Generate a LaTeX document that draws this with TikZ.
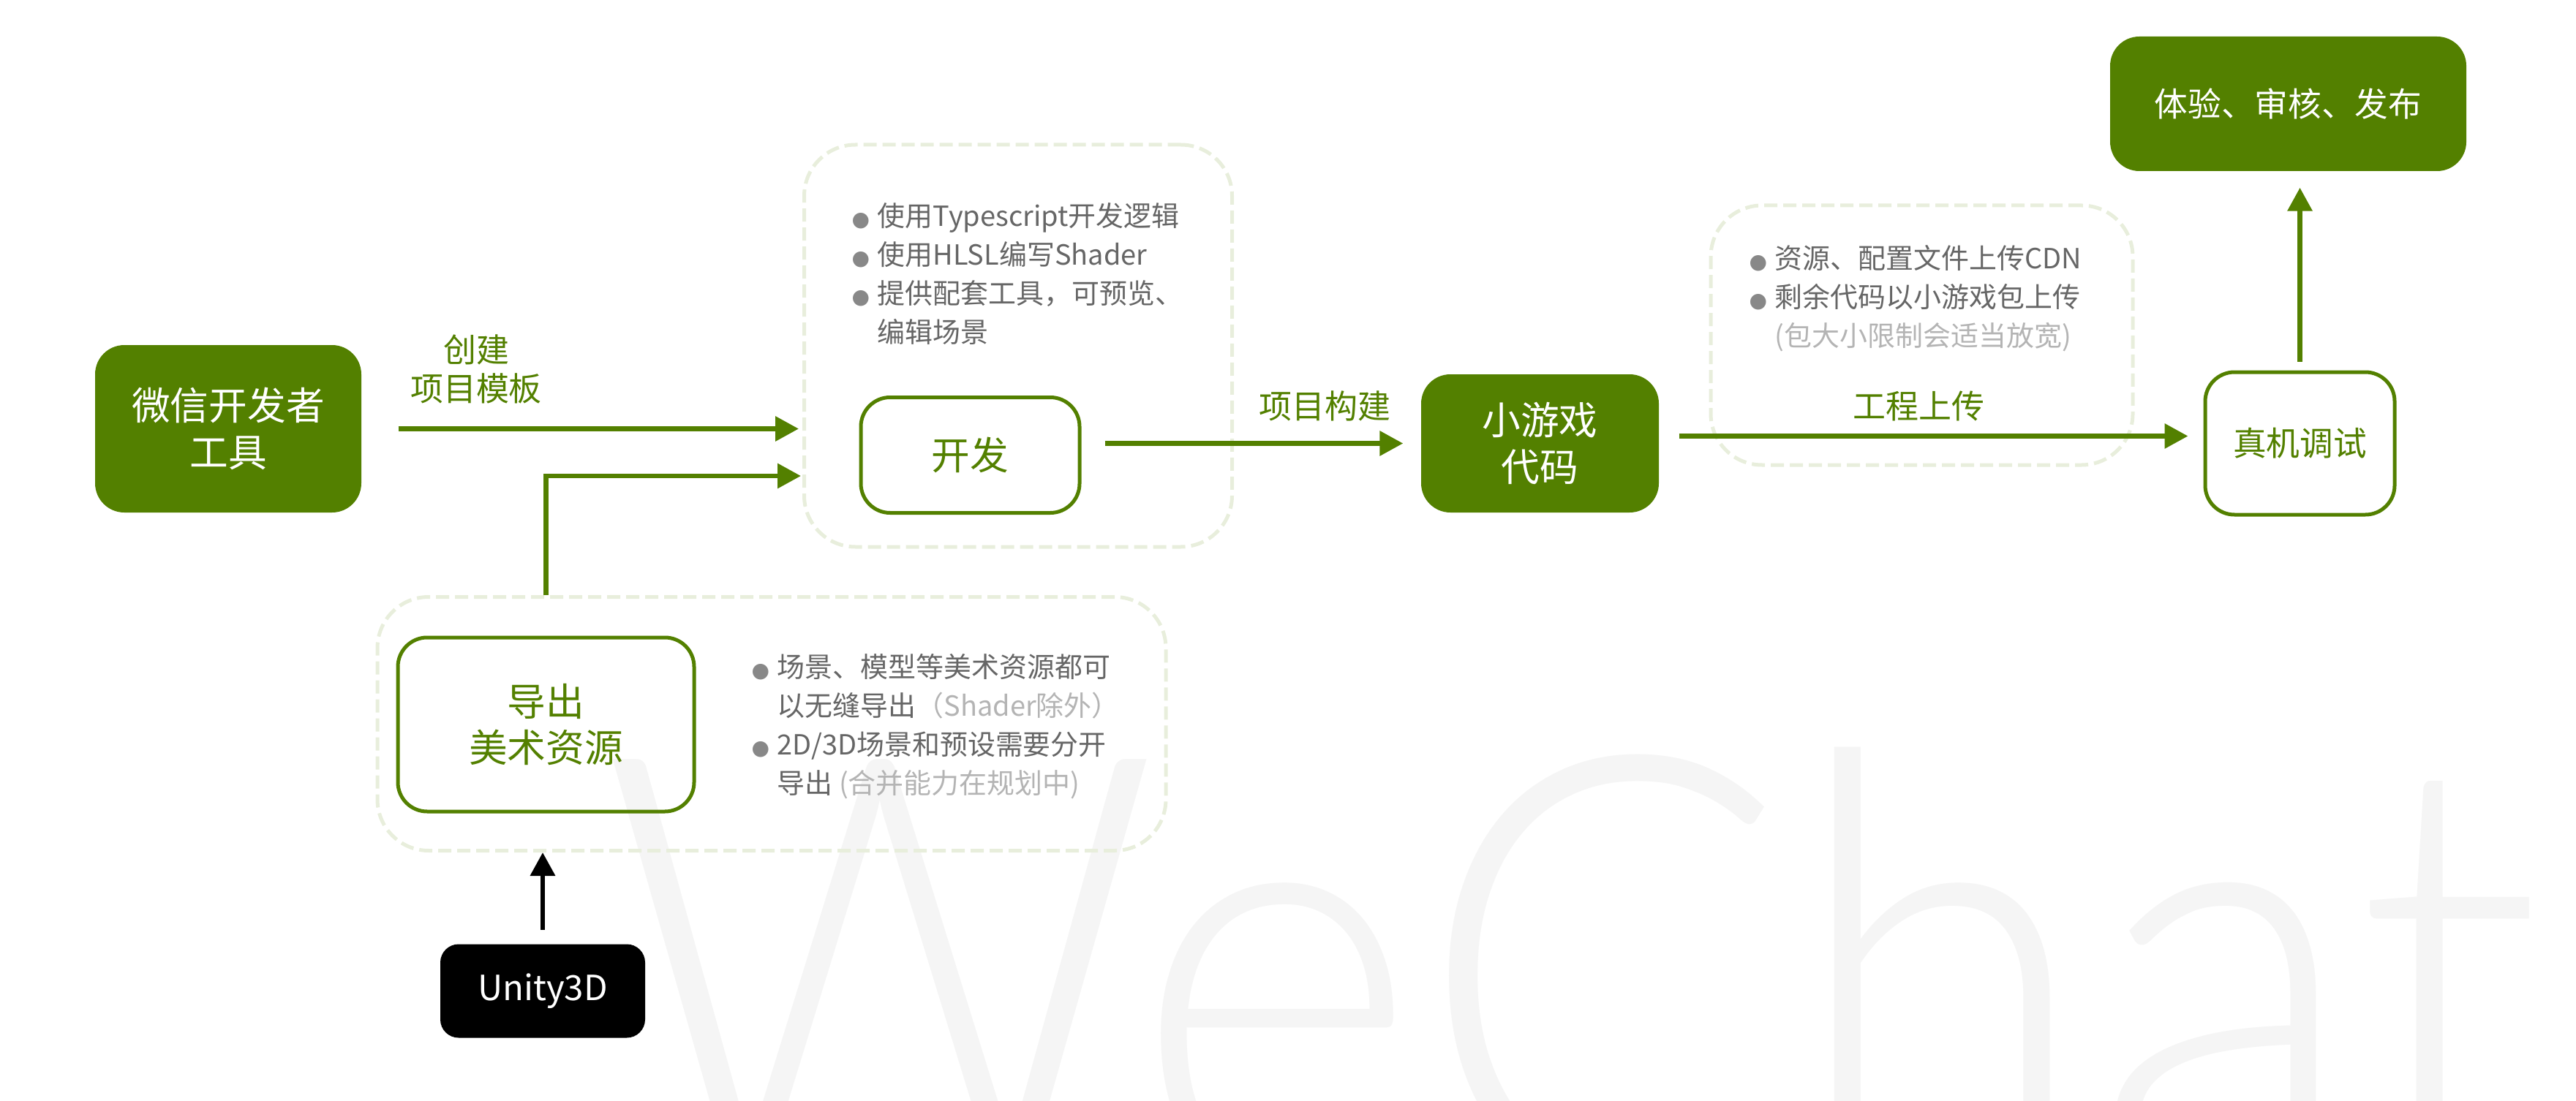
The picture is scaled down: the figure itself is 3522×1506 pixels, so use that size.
\documentclass[tikz,border=0pt]{standalone}
\usepackage{fontspec}
\setmainfont{Noto Sans CJK SC}
\newfontfamily\dotfont{DejaVu Sans}
\newfontfamily\wmfont{Lato Light}
\usetikzlibrary{arrows.meta, calc}

\definecolor{wxgreen}{RGB}{83,128,0}
\definecolor{zoneline}{RGB}{232,238,220}
\definecolor{notegray}{RGB}{102,102,102}
\definecolor{hintgray}{RGB}{180,180,180}
\definecolor{dotgray}{RGB}{136,136,136}
\definecolor{wmgray}{RGB}{245,245,245}

\newcommand{\bul}{\makebox[3.5mm][l]{\textcolor{dotgray}{\dotfont\fontsize{8pt}{8pt}\selectfont ●}}}
\newcommand{\nob}{\hspace*{3.5mm}}

\tikzset{
  solidbox/.style={rounded corners=4mm, fill=wxgreen, text=white, inner sep=0pt, align=center, font=\fontsize{15pt}{18pt}\selectfont},
  linebox/.style={rounded corners=4mm, draw=wxgreen, line width=0.5mm, text=wxgreen, inner sep=0pt, align=center, font=\fontsize{15pt}{18pt}\selectfont},
  zone/.style={rounded corners=7mm, draw=zoneline, line width=0.5mm, dash pattern=on 1.8mm off 0.8mm, inner sep=0pt},
  note/.style={text=notegray, inner sep=0pt, align=left, font=\fontsize{10.8pt}{15.1pt}\selectfont},
  lbl/.style={text=wxgreen, inner sep=0pt, align=center, font=\fontsize{12.8pt}{15pt}\selectfont},
  flow/.style={draw=wxgreen, line width=0.65mm, -{Triangle[length=3.2mm,width=3.3mm]}},
}

\begin{document}
\begin{tikzpicture}[x=0.1mm, y=-0.1mm]
\useasboundingbox (0,0) rectangle (3522,1506);
% watermark
\begin{scope}
\clip (0,0) rectangle (3522,1506);
\node[anchor=base west, inner sep=0pt, xscale=0.9, text=wmgray, font=\wmfont\fontsize{238pt}{238pt}\selectfont] (wm) at (820,1630) {WeChat};
\end{scope}

% dashed groups
\node[zone, minimum width=58.5mm, minimum height=55mm] (devzone) at (1392,473) {};
\node[zone, minimum width=57.7mm, minimum height=35.5mm] (uploadzone) at (2627.5,458.5) {};
\node[zone, minimum width=107.8mm, minimum height=34.7mm] (exportzone) at (1055,990) {};

% boxes
\node[solidbox, minimum width=36.4mm, minimum height=22.9mm] (wx) at (312,586.5) {微信开发者\\工具};
\node[linebox, minimum width=29.9mm, minimum height=15.8mm] (dev) at (1326.5,622.5) {开发};
\node[solidbox, minimum width=32.5mm, minimum height=18.9mm] (code) at (2105.5,606.5) {小游戏\\代码};
\node[linebox, minimum width=25.9mm, minimum height=19.5mm, font=\fontsize{13pt}{15pt}\selectfont] (test) at (3144.5,606.5) {真机调试};
\node[solidbox, minimum width=48.7mm, minimum height=18.4mm, font=\fontsize{13pt}{15pt}\selectfont] (release) at (3128.5,142) {体验、审核、发布};
\node[linebox, minimum width=40.5mm, minimum height=23.8mm] (exportbox) at (746.5,991) {导出\\美术资源};
\node[solidbox, fill=black, rounded corners=2.5mm, minimum width=28mm, minimum height=12.8mm, font=\fontsize{13.5pt}{15pt}\selectfont] (unity) at (742,1355.5) {Unity3D};

% notes
\node[note, anchor=west] (devnotes) at (1164,374.5) {\bul 使用Typescript开发逻辑\\ \bul 使用HLSL编写Shader\\ \bul 提供配套工具，可预览、\\ \nob 编辑场景};
\node[note, anchor=west] (uploadnotes) at (2391,408.5) {\bul 资源、配置文件上传CDN\\ \bul 剩余代码以小游戏包上传\\ \nob\textcolor{hintgray}{(包大小限制会适当放宽)}};
\node[note, anchor=west] (exportnotes) at (1027,993.5) {\bul 场景、模型等美术资源都可\\ \nob 以无缝导出\textcolor{hintgray}{（Shader除外）}\\ \bul 2D/3D场景和预设需要分开\\ \nob 导出 \textcolor{hintgray}{(合并能力在规划中)}};

% arrow labels
\node[lbl] (newlbl) at (651,505) {创建\\项目模板};
\node[lbl] (buildlbl) at (1811,555) {项目构建};
\node[lbl] (uplbl) at (2623,555) {工程上传};

% connectors
\coordinate (devin) at (1100,651);
\draw[flow, shorten <=5mm, shorten >=0.5mm] (wx.east) -- (wx.east -| devzone.west);
\draw[flow, shorten >=0.5mm] (exportbox.north |- exportzone.north) |- (devin);
\draw[flow, shorten <=3.2mm, shorten >=2.4mm] (dev.east |- code.west) -- (code.west);
\draw[flow, shorten <=2.7mm, shorten >=2.1mm] ([yshift=1mm]code.east) -- ([yshift=1mm]test.west);
\draw[flow, shorten <=1.2mm, shorten >=2.2mm] (test.north) -- (test.north |- release.south);
\draw[flow, draw=black, shorten <=1.9mm] (unity.north) -- (unity.north |- exportzone.south);
\end{tikzpicture}
\end{document}
